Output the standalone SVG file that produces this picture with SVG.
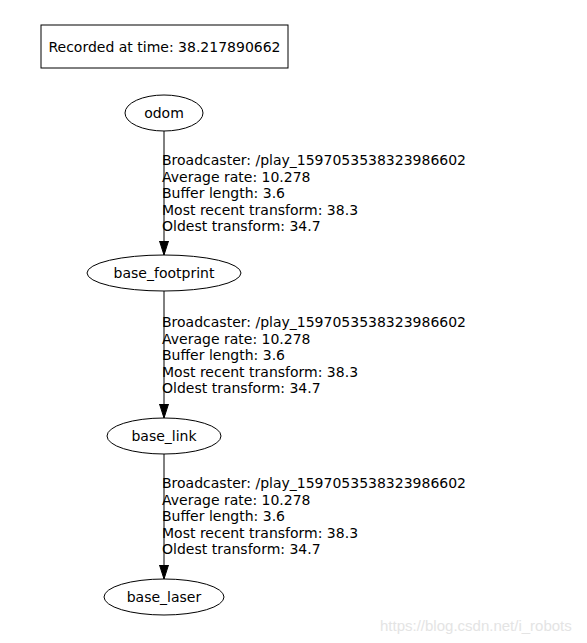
<svg xmlns="http://www.w3.org/2000/svg" width="587" height="643" viewBox="0 0 587 643">
<style>
text{font-family:"DejaVu Sans",sans-serif;font-size:14px;fill:#000}
.n{fill:none;stroke:#000;stroke-width:1}
.e{fill:none;stroke:#000;stroke-width:1}
.c{text-anchor:middle}
.wm{font-family:"Liberation Sans",Arial,sans-serif;font-size:15px;fill:#e4e4e4}
</style>
<defs>
<marker id="ah" markerWidth="14" markerHeight="10" refX="14" refY="4.5" orient="auto" markerUnits="userSpaceOnUse">
<path d="M0,0 L14,4.5 L0,9 Z" fill="#000" stroke="#000"/>
</marker>
</defs>
<rect width="587" height="643" fill="#fff"/>
<g id="header">
<rect x="41" y="25" width="247" height="43" class="n"/>
<text x="164.5" y="52" class="c">Recorded at time: 38.217890662</text>
</g>
<g id="connectors">
<line x1="164" y1="131" x2="164" y2="255" class="e" marker-end="url(#ah)"/>
<line x1="164" y1="291" x2="164" y2="418" class="e" marker-end="url(#ah)"/>
<line x1="164" y1="454" x2="164" y2="579" class="e" marker-end="url(#ah)"/>
<g id="label1">
<text x="162" y="165">Broadcaster: /play_1597053538323986602</text>
<text x="162" y="181.5">Average rate: 10.278</text>
<text x="162" y="198">Buffer length: 3.6</text>
<text x="162" y="214.5">Most recent transform: 38.3</text>
<text x="162" y="231">Oldest transform: 34.7</text>
</g>
<g id="label2">
<text x="162" y="327">Broadcaster: /play_1597053538323986602</text>
<text x="162" y="343.5">Average rate: 10.278</text>
<text x="162" y="360">Buffer length: 3.6</text>
<text x="162" y="376.5">Most recent transform: 38.3</text>
<text x="162" y="393">Oldest transform: 34.7</text>
</g>
<g id="label3">
<text x="162" y="488">Broadcaster: /play_1597053538323986602</text>
<text x="162" y="504.5">Average rate: 10.278</text>
<text x="162" y="521">Buffer length: 3.6</text>
<text x="162" y="537.5">Most recent transform: 38.3</text>
<text x="162" y="554">Oldest transform: 34.7</text>
</g>
</g>
<g id="odom">
<ellipse cx="164" cy="113" rx="39" ry="18" class="n"/>
<text x="164" y="118" class="c">odom</text>
</g>
<g id="base_footprint">
<ellipse cx="164" cy="273" rx="77" ry="18" class="n"/>
<text x="164" y="278" class="c">base_footprint</text>
</g>
<g id="base_link">
<ellipse cx="164" cy="436" rx="57" ry="18" class="n"/>
<text x="164" y="441" class="c">base_link</text>
</g>
<g id="base_laser">
<ellipse cx="164" cy="597" rx="60" ry="18" class="n"/>
<text x="164" y="602" class="c">base_laser</text>
</g>
<text x="380" y="631" class="wm">https://blog.csdn.net/i_robots</text>
</svg>
